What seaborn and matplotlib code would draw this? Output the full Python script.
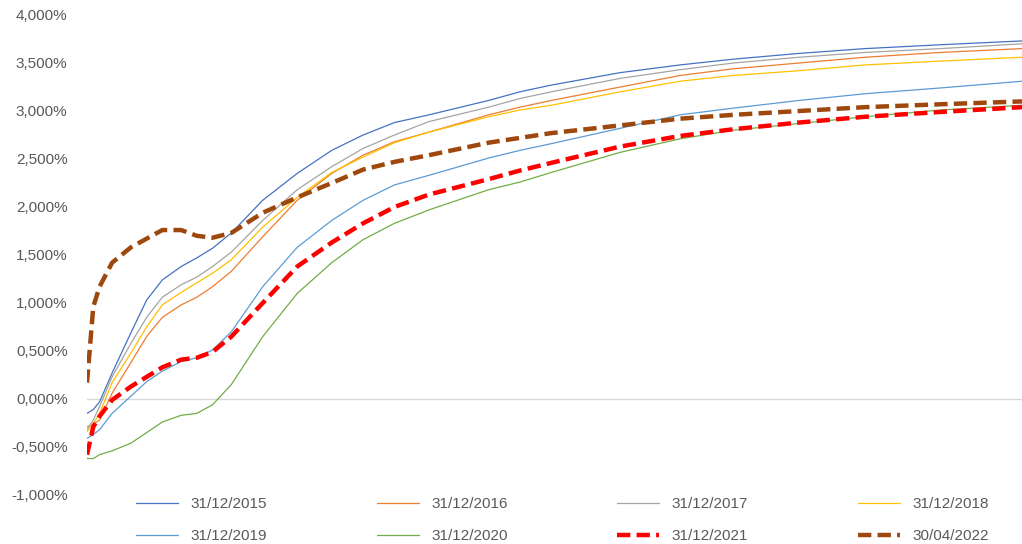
import matplotlib
matplotlib.use("Agg")
import matplotlib.pyplot as plt
import matplotlib.ticker as mticker
import numpy as np
import pandas as pd
import seaborn as sns

# maturities (years) and curves (%)
maturity = [1, 2, 3, 5, 8, 10.5, 13, 16, 18.5, 21, 24, 29, 34.5, 40, 45, 50,
            55.5, 65, 70, 75, 86, 95.5, 104, 114.5, 125, 137, 150]

c2015 = [-0.15, -0.11, -0.03, 0.27, 0.69, 1.03, 1.24, 1.38, 1.47, 1.57, 1.73, 2.07,
         2.35, 2.59, 2.75, 2.88, 2.96, 3.11, 3.20, 3.27, 3.40, 3.48, 3.54, 3.60,
         3.65, 3.69, 3.73]
c2016 = [-0.29, -0.26, -0.22, 0.06, 0.38, 0.65, 0.85, 0.98, 1.06, 1.17, 1.33, 1.69,
         2.07, 2.35, 2.54, 2.68, 2.78, 2.96, 3.04, 3.11, 3.25, 3.37, 3.44, 3.50,
         3.56, 3.61, 3.65]
c2017 = [-0.32, -0.22, -0.08, 0.23, 0.58, 0.85, 1.06, 1.19, 1.27, 1.38, 1.53, 1.86,
         2.18, 2.42, 2.61, 2.75, 2.89, 3.04, 3.13, 3.20, 3.34, 3.43, 3.50, 3.56,
         3.61, 3.65, 3.70]
c2018 = [-0.34, -0.26, -0.15, 0.17, 0.48, 0.75, 0.98, 1.11, 1.21, 1.31, 1.45, 1.79,
         2.10, 2.36, 2.52, 2.67, 2.78, 2.94, 3.01, 3.06, 3.20, 3.31, 3.37, 3.42,
         3.48, 3.52, 3.56]
c2019 = [-0.41, -0.37, -0.32, -0.15, 0.03, 0.18, 0.29, 0.39, 0.43, 0.51, 0.70, 1.17,
         1.58, 1.86, 2.07, 2.23, 2.33, 2.51, 2.59, 2.66, 2.82, 2.96, 3.03, 3.11,
         3.18, 3.24, 3.31]
c2020 = [-0.62, -0.62, -0.58, -0.54, -0.46, -0.35, -0.24, -0.17, -0.15, -0.06, 0.15, 0.65,
         1.10, 1.42, 1.66, 1.83, 1.97, 2.18, 2.26, 2.36, 2.57, 2.71, 2.80, 2.87,
         2.94, 3.01, 3.06]
c2021 = [-0.58, -0.29, -0.18, -0.01, 0.13, 0.23, 0.33, 0.41, 0.43, 0.49, 0.65, 1.00,
         1.38, 1.63, 1.83, 2.00, 2.13, 2.29, 2.38, 2.46, 2.63, 2.74, 2.81, 2.88,
         2.94, 2.99, 3.04]
c2022 = [0.17, 0.96, 1.17, 1.42, 1.58, 1.67, 1.76, 1.76, 1.70, 1.68, 1.73, 1.94,
         2.10, 2.25, 2.39, 2.47, 2.54, 2.67, 2.72, 2.77, 2.85, 2.92, 2.96, 3.00,
         3.04, 3.07, 3.10]

labels = ["31/12/2015", "31/12/2016", "31/12/2017", "31/12/2018",
          "31/12/2019", "31/12/2020", "31/12/2021", "30/04/2022"]
curves = [c2015, c2016, c2017, c2018, c2019, c2020, c2021, c2022]
colors = ["#4472C4", "#ED7D31", "#A5A5A5", "#FFC000",
          "#5B9BD5", "#70AD47", "#FF0000", "#9E480E"]

sns.set_style("white")
plt.rcParams["font.family"] = ["Liberation Sans", "DejaVu Sans"]

fig = plt.figure(figsize=(10.22, 5.44), dpi=100)
ax = fig.add_axes([87 / 1022, 1 - 495 / 544, 1 - 87 / 1022, (495 - 15) / 544])

ax.axhline(0, color="#D9D9D9", lw=1, zorder=1)

for lab, vals, col in zip(labels, curves, colors):
    df = pd.DataFrame({"maturity": maturity, "rate": vals})
    if lab in ("31/12/2021", "30/04/2022"):
        sns.lineplot(data=df, x="maturity", y="rate", ax=ax, color=col, lw=3.2,
                     linestyle=(0, (3, 1.4)), label=lab, zorder=3)
    else:
        sns.lineplot(data=df, x="maturity", y="rate", ax=ax, color=col, lw=0.9,
                     label=lab, zorder=2)

ax.set_xlim(1, 150)
ax.set_ylim(-1, 4)
ax.set_yticks(np.arange(-1, 4.01, 0.5))
ax.yaxis.set_major_formatter(
    mticker.FuncFormatter(lambda v, p: f"{v:.3f}%".replace(".", ",")))
ax.set_xticks([])
ax.set_xlabel("")
ax.set_ylabel("")
ax.tick_params(axis="y", length=0, pad=14, labelsize=11, labelcolor="#595959")
for s in ax.spines.values():
    s.set_visible(False)

# legend fills row by row like Excel
handles, labs = ax.get_legend_handles_labels()
order = [0, 4, 1, 5, 2, 6, 3, 7]
ax.legend([handles[i] for i in order], [labs[i] for i in order],
          loc="upper left", bbox_to_anchor=(136 / 1022, 1 - 497 / 544),
          bbox_transform=fig.transFigure, ncol=4, frameon=False,
          fontsize=11, labelcolor="#595959", handlelength=2.75,
          handletextpad=0.8, columnspacing=7.2, labelspacing=1.2,
          borderpad=0, borderaxespad=0)

fig.savefig("out.png", dpi=100)
